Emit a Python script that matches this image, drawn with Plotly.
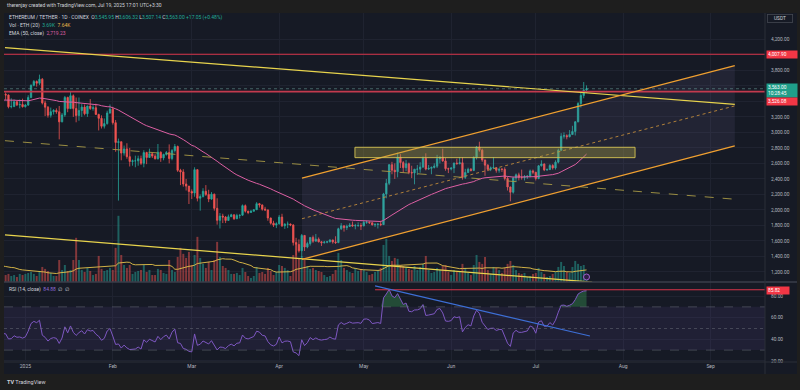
import numpy as np
import pandas as pd
import plotly.graph_objects as go

# ---------------- data (daily ETH/USDT, COINEX) ----------------
DATES = pd.date_range("2024-12-01", "2025-07-19", freq="D")
FIRST_OPEN = 3705.0

CLOSE = [
    # Dec 2024
    3707, 3642, 3614, 3837, 3785, 4002, 3997, 4005, 3709, 3627, 3836, 3879, 3908, 3876, 3960, 3985,
    3875, 3628, 3420, 3473, 3285, 3275, 3420, 3490, 3482, 3331, 3335, 3395, 3355, 3360, 3332,
    # Jan 2025
    3353, 3451, 3607, 3657, 3634, 3686, 3380, 3325, 3221, 3267, 3283, 3266, 3136, 3225, 3451, 3307,
    3473, 3307, 3217, 3282, 3326, 3241, 3339, 3307, 3318, 3232, 3181, 3079, 3113, 3250, 3300,
    # Feb
    3125, 2870, 2880, 2733, 2787, 2687, 2624, 2633, 2633, 2661, 2601, 2740, 2676, 2725, 2694, 2660,
    2744, 2671, 2716, 2740, 2663, 2765, 2818, 2510, 2490, 2334, 2307, 2237,
    # Mar
    2217, 2519, 2150, 2172, 2240, 2200, 2140, 2203, 2020, 1865, 1920, 1908, 1864, 1912, 1937, 1887,
    1927, 1932, 2055, 1983, 1967, 1982, 2002, 2080, 2064, 2010, 2000, 1896, 1829, 1804, 1822,
    # Apr
    1907, 1795, 1815, 1817, 1805, 1580, 1553, 1473, 1671, 1522, 1566, 1645, 1596, 1623, 1588, 1577,
    1584, 1588, 1613, 1587, 1579, 1757, 1795, 1771, 1787, 1806, 1793, 1799, 1799, 1793,
    # May
    1839, 1842, 1834, 1807, 1812, 1816, 1810, 2206, 2344, 2583, 2512, 2493, 2680, 2610, 2545, 2595,
    2484, 2477, 2524, 2526, 2553, 2666, 2527, 2536, 2548, 2564, 2660, 2681, 2632, 2532, 2528,
    # Jun
    2540, 2604, 2594, 2608, 2419, 2483, 2524, 2509, 2679, 2811, 2771, 2643, 2577, 2523, 2543, 2545,
    2510, 2524, 2523, 2406, 2296, 2228, 2410, 2452, 2418, 2417, 2425, 2436, 2503, 2486,
    # Jul
    2405, 2569, 2592, 2516, 2520, 2573, 2542, 2616, 2770, 2950, 2958, 2944, 2972, 3012, 3136, 3372,
    3476, 3545.95, 3563.00,
]
HIGH = [
    3760, 3730, 3670, 3875, 3935, 4085, 4020, 4010, 4010, 3790, 3845, 3990, 3950, 3950, 3970, 4105,
    4040, 3905, 3725, 3490, 3540, 3340, 3430, 3510, 3515, 3490, 3440, 3425, 3410, 3425, 3435,
    3365, 3480, 3620, 3675, 3670, 3745, 3700, 3410, 3340, 3320, 3300, 3310, 3340, 3250, 3470, 3460,
    3525, 3490, 3450, 3450, 3365, 3360, 3345, 3430, 3350, 3370, 3240, 3220, 3180, 3280, 3360,
    3330, 3160, 2920, 2880, 2830, 2860, 2800, 2650, 2700, 2700, 2700, 2770, 2750, 2790, 2730, 2720,
    2850, 2755, 2725, 2760, 2845, 2785, 2850, 2830, 2530, 2525, 2400, 2310,
    2265, 2550, 2525, 2200, 2280, 2320, 2260, 2230, 2210, 2150, 1960, 1950, 1920, 1940, 1950, 1940,
    1950, 1940, 2070, 2070, 1990, 2000, 2010, 2100, 2090, 2070, 2040, 2005, 1900, 1860, 1840,
    1935, 1950, 1830, 1850, 1825, 1815, 1640, 1620, 1690, 1675, 1590, 1650, 1670, 1690, 1645, 1600,
    1600, 1600, 1620, 1615, 1660, 1770, 1830, 1800, 1810, 1830, 1850, 1820, 1840, 1830,
    1860, 1860, 1850, 1840, 1830, 1830, 1860, 2220, 2400, 2590, 2620, 2600, 2738, 2720, 2630, 2645,
    2610, 2570, 2530, 2580, 2615, 2690, 2730, 2580, 2560, 2600, 2710, 2690, 2790, 2670, 2545,
    2550, 2610, 2660, 2680, 2680, 2530, 2545, 2540, 2690, 2825, 2880, 2790, 2650, 2590, 2560, 2680,
    2550, 2540, 2540, 2550, 2430, 2300, 2430, 2470, 2480, 2520, 2450, 2445, 2520, 2520,
    2490, 2580, 2640, 2600, 2535, 2590, 2590, 2640, 2790, 2990, 3000, 2975, 3030, 3085, 3145, 3390,
    3520, 3650, 3606.32,
]
LOW = [
    3640, 3560, 3500, 3600, 3745, 3760, 3960, 3945, 3530, 3515, 3610, 3830, 3850, 3860, 3850, 3920,
    3850, 3590, 3360, 3100, 3280, 3225, 3180, 3400, 3420, 3310, 3310, 3325, 3340, 3310, 3320,
    3320, 3340, 3440, 3595, 3590, 3610, 3360, 3210, 3190, 3190, 3230, 3240, 2910, 3130, 3200, 3260,
    3300, 3200, 3130, 3150, 3200, 3220, 3200, 3290, 3280, 3225, 3025, 3050, 3050, 3100, 3240,
    3100, 2750, 2120, 2640, 2700, 2660, 2560, 2570, 2550, 2570, 2580, 2550, 2590, 2670, 2670, 2650,
    2650, 2620, 2640, 2700, 2600, 2640, 2740, 2490, 2320, 2300, 2250, 2076,
    2140, 2170, 2110, 1990, 2160, 2180, 2100, 2130, 1990, 1810, 1760, 1830, 1830, 1860, 1910, 1870,
    1880, 1890, 1925, 1965, 1945, 1960, 1980, 2000, 2030, 1990, 1985, 1860, 1810, 1780, 1765,
    1810, 1780, 1755, 1765, 1790, 1540, 1410, 1450, 1385, 1470, 1505, 1540, 1575, 1595, 1580, 1535,
    1565, 1570, 1580, 1565, 1560, 1570, 1740, 1720, 1740, 1780, 1785, 1750, 1780, 1740,
    1790, 1820, 1820, 1800, 1780, 1760, 1790, 1805, 2150, 2320, 2460, 2400, 2420, 2540, 2480, 2500,
    2460, 2410, 2330, 2450, 2480, 2540, 2510, 2515, 2460, 2535, 2540, 2600, 2620, 2505, 2475,
    2510, 2475, 2590, 2590, 2390, 2400, 2475, 2495, 2500, 2650, 2750, 2620, 2440, 2500, 2500, 2530,
    2480, 2480, 2490, 2380, 2250, 2111, 2210, 2360, 2380, 2390, 2380, 2400, 2420, 2460,
    2380, 2395, 2560, 2500, 2505, 2515, 2520, 2520, 2600, 2760, 2920, 2910, 2935, 2970, 2960, 3130,
    3320, 3440, 3507.14,
]
VOLUME_K = [
    12.5, 11.0, 13.5, 14.0, 12.0, 16.5, 8.0, 7.5, 20.0, 15.0, 11.5, 10.0, 8.5, 6.5, 7.0, 12.0,
    11.0, 14.5, 19.0, 18.0, 10.5, 7.0, 8.5, 6.5, 5.0, 5.8, 4.3, 5.0, 3.6, 5.8, 5.0,
    5.8, 6.5, 7.2, 5.8, 4.3, 7.9, 10.8, 9.4, 7.9, 6.5, 4.3, 4.3, 15.8, 8.6, 12.2, 7.9,
    8.6, 15.8, 31.7, 15.8, 8.6, 7.2, 10.1, 7.9, 5.0, 5.8, 18.7, 9.4, 7.9, 8.6, 10.1,
    8.6, 24.5, 47.5, 19.4, 12.2, 10.1, 12.2, 5.8, 7.2, 7.9, 8.6, 12.2, 7.2, 8.6, 5.0, 5.0,
    9.4, 8.6, 6.5, 5.8, 15.8, 8.6, 7.2, 18.0, 24.5, 20.2, 17.3, 21.6,
    12.2, 19.4, 32.4, 17.3, 13.0, 10.1, 14.4, 8.6, 15.8, 28.8, 18.0, 11.5, 10.1, 8.6, 5.8, 5.8,
    6.5, 5.0, 10.1, 7.2, 4.3, 2.9, 4.3, 10.8, 6.5, 7.2, 5.8, 10.1, 7.9, 5.0, 7.2,
    12.2, 11.5, 10.1, 8.6, 4.3, 19.4, 26.6, 17.3, 18.7, 15.8, 11.5, 9.4, 10.1, 8.6, 7.9, 7.2,
    5.0, 3.6, 4.3, 5.8, 8.6, 20.9, 15.8, 10.1, 8.6, 7.2, 6.5, 10.1, 7.9, 9.4,
    8.6, 7.2, 5.0, 5.8, 7.2, 8.6, 10.1, 26.6, 31.0, 18.7, 15.1, 17.3, 16.6, 12.2, 11.5, 10.1,
    9.4, 8.6, 11.5, 8.6, 10.8, 13.0, 18.7, 8.6, 6.5, 7.2, 10.1, 8.6, 11.5, 12.2, 7.2,
    5.0, 8.6, 7.2, 7.9, 13.0, 10.1, 6.5, 5.0, 12.2, 19.4, 14.4, 13.0, 18.0, 8.6, 5.8, 10.8,
    10.1, 8.6, 6.5, 10.1, 13.0, 15.1, 12.2, 8.6, 6.5, 5.8, 6.5, 3.6, 4.3, 5.8,
    6.5, 10.1, 7.2, 5.8, 3.6, 4.3, 5.8, 7.2, 10.8, 14.4, 11.5, 7.2, 6.5, 10.8, 15.1, 13.0,
    11.5, 12.2, 3.69,
]
EMA_PRIOR = 3000.0   # EMA(50) on 2024-11-30 (chart reads ~3,424 at its left edge)

# Drawings (date, price / RSI value)
TOP_TREND_X, TOP_TREND_Y = ["2024-12-24 18:00", "2025-09-09 14:00"], [4094, 3361]
LOW_TREND_X, LOW_TREND_Y = ["2024-12-24 18:00", "2025-07-21 00:00"], [1678, 1068]
MID_DASH_X, MID_DASH_Y = ["2024-12-24 18:00", "2025-09-09 14:00"], [2893, 2138]
CHAN_X = ["2025-04-09 02:00", "2025-09-09 14:00"]
CHAN_UP, CHAN_MID, CHAN_LO = [2409, 3860], [1886, 3342], [1362, 2825]
ZONE_X, ZONE_Y = ["2025-04-27 21:00", "2025-08-05 05:00"], [2674, 2808]
RES_LEVEL, SUP_LEVEL, LAST_PRICE = 4007.90, 3526.08, 3563.00
RSI_LEVEL, RSI_LEVEL_START = 85.82, "2025-05-05"
RSI_TREND_X, RSI_TREND_Y = ["2025-05-05 00:00", "2025-07-20 05:00"], [89.4, 43.0]

PRICE_TICKS = list(range(1200, 4201, 200))
HIDDEN_TICKS = {3400, 3600, 4000}
RSI_TICKS = [20, 40, 60, 80]
MONTH_TICKS = ["2025-01-01", "2025-02-01", "2025-03-01", "2025-04-01", "2025-05-01",
               "2025-06-01", "2025-07-01", "2025-08-01", "2025-09-01"]
MONTH_TEXT = ["2025", "Feb", "Mar", "Apr", "May", "Jun", "Jul", "Aug", "Sep"]

# ---------------- indicators ----------------
c = np.array(CLOSE, dtype=float)
o = np.array([FIRST_OPEN] + CLOSE[:-1], dtype=float)
h = np.maximum.reduce([np.array(HIGH, float), o, c])
l = np.minimum.reduce([np.array(LOW, float), o, c])
vol = np.array(VOLUME_K, float)

alpha = 2 / 51
ema, prev = [], EMA_PRIOR
for v in c:
    prev = alpha * v + (1 - alpha) * prev
    ema.append(prev)

d = np.diff(c)
gain, loss = np.clip(d, 0, None), np.clip(-d, 0, None)
rsi = np.full(len(c), np.nan)
ag, al = gain[:14].mean(), loss[:14].mean()
rsi[14] = 100 * ag / (ag + al)
for i in range(14, len(d)):
    ag = (ag * 13 + gain[i]) / 14
    al = (al * 13 + loss[i]) / 14
    rsi[i + 1] = 100 * ag / (ag + al)
vol_ma = pd.Series(vol).rolling(20).mean().values

# ---------------- styling ----------------
UP, DOWN = "#26a69a", "#ef5350"
BG, PAPER = "#161a25", "#1e1e1e"
GRID = "#1f2330"
TXT = "#b2b5be"
FONT = "Roboto"
L_, R_, T_, B_ = 4, 765, 13, 362
SPLIT = 282


def px(x):
    return (x - L_) / (R_ - L_)


def py(y):
    return (B_ - y) / (B_ - T_)


fig = go.Figure()

# channel fill
fig.add_trace(go.Scatter(x=[CHAN_X[0], CHAN_X[1], CHAN_X[1], CHAN_X[0]],
                         y=[CHAN_UP[0], CHAN_UP[1], CHAN_LO[1], CHAN_LO[0]],
                         fill="toself", fillcolor="rgba(150,140,210,0.09)",
                         line=dict(width=0), mode="lines", yaxis="y", hoverinfo="skip"))

# volume
vcol = np.where(c >= o, "rgba(38,166,154,0.5)", "rgba(239,83,80,0.5)")
fig.add_trace(go.Bar(x=DATES, y=vol, marker=dict(color=list(vcol), line=dict(width=0)),
                     width=0.7 * 86400000, yaxis="y2"))
fig.add_trace(go.Scatter(x=DATES, y=vol_ma, mode="lines", line=dict(color="#e6c34a", width=0.9),
                         yaxis="y2"))
fig.add_trace(go.Scatter(x=[DATES[-1]], y=[3.6], mode="markers", yaxis="y2",
                         marker=dict(size=6, color="#2d1f45", line=dict(color="#a060d0", width=1))))

# candles
fig.add_trace(go.Candlestick(x=DATES, open=o, high=h, low=l, close=c, yaxis="y",
                             increasing=dict(line=dict(color=UP, width=0.8), fillcolor=UP),
                             decreasing=dict(line=dict(color=DOWN, width=0.8), fillcolor=DOWN),
                             whiskerwidth=0))
fig.add_trace(go.Scatter(x=DATES, y=ema, mode="lines", line=dict(color="#dd5fa3", width=1),
                         yaxis="y"))

# RSI
rs_x = DATES[14:]
rs_y = rsi[14:]
fig.add_trace(go.Scatter(x=rs_x, y=np.full(len(rs_y), 70.0), mode="lines",
                         line=dict(width=0), yaxis="y3", hoverinfo="skip"))
fig.add_trace(go.Scatter(x=rs_x, y=np.maximum(rs_y, 70.0), mode="lines", line=dict(width=0),
                         fill="tonexty", fillcolor="rgba(60,170,90,0.35)", yaxis="y3"))
fig.add_trace(go.Scatter(x=rs_x, y=rs_y, mode="lines", line=dict(color="#7e57c2", width=1),
                         yaxis="y3"))

shapes = []
# frame background
shapes.append(dict(type="rect", xref="paper", yref="paper", x0=0, x1=px(797), y0=py(374), y1=1,
                   fillcolor=BG, line=dict(width=0), layer="below"))
# RSI band and levels
shapes.append(dict(type="rect", xref="x", yref="y3", x0="2024-12-01", x1="2025-10-30",
                   y0=30, y1=70, fillcolor="rgba(126,87,194,0.10)", line=dict(width=0),
                   layer="between"))
for lv, dash in [(70, "dash"), (50, "dot"), (30, "dash")]:
    shapes.append(dict(type="line", xref="paper", yref="y3", x0=0, x1=1, y0=lv, y1=lv,
                       line=dict(color="rgba(120,123,134,0.55)", width=0.8, dash=dash)))
# horizontal levels
shapes.append(dict(type="line", xref="paper", yref="y", x0=0, x1=1, y0=RES_LEVEL, y1=RES_LEVEL,
                   line=dict(color="#d9344a", width=1.2)))
shapes.append(dict(type="line", xref="paper", yref="y", x0=0, x1=1, y0=LAST_PRICE, y1=LAST_PRICE,
                   line=dict(color="rgba(120,180,170,0.6)", width=0.8, dash="dot")))
shapes.append(dict(type="line", xref="paper", yref="y", x0=0, x1=1, y0=SUP_LEVEL, y1=SUP_LEVEL,
                   line=dict(color="#c23a4e", width=1.8)))
# trend lines
shapes.append(dict(type="line", xref="x", yref="y", x0=MID_DASH_X[0], x1=MID_DASH_X[1],
                   y0=MID_DASH_Y[0], y1=MID_DASH_Y[1], line=dict(color="#a89a45", width=0.9, dash="dash")))
shapes.append(dict(type="line", xref="x", yref="y", x0=TOP_TREND_X[0], x1=TOP_TREND_X[1],
                   y0=TOP_TREND_Y[0], y1=TOP_TREND_Y[1], line=dict(color="#e8d44d", width=1.2)))
shapes.append(dict(type="line", xref="x", yref="y", x0=LOW_TREND_X[0], x1=LOW_TREND_X[1],
                   y0=LOW_TREND_Y[0], y1=LOW_TREND_Y[1], line=dict(color="#e8d44d", width=1.2)))
shapes.append(dict(type="line", xref="x", yref="y", x0=CHAN_X[0], x1=CHAN_X[1],
                   y0=CHAN_UP[0], y1=CHAN_UP[1], line=dict(color="#f0a030", width=1.3)))
shapes.append(dict(type="line", xref="x", yref="y", x0=CHAN_X[0], x1=CHAN_X[1],
                   y0=CHAN_LO[0], y1=CHAN_LO[1], line=dict(color="#f0a030", width=1.3)))
shapes.append(dict(type="line", xref="x", yref="y", x0=CHAN_X[0], x1=CHAN_X[1],
                   y0=CHAN_MID[0], y1=CHAN_MID[1], line=dict(color="#c08a3a", width=0.9, dash="dot")))
shapes.append(dict(type="rect", xref="x", yref="y", x0=ZONE_X[0], x1=ZONE_X[1],
                   y0=ZONE_Y[0], y1=ZONE_Y[1], fillcolor="rgba(175,165,70,0.35)",
                   line=dict(color="#d8c653", width=0.9)))
# RSI drawings
shapes.append(dict(type="line", xref="x", yref="y3", x0=RSI_LEVEL_START, x1="2025-10-30",
                   y0=RSI_LEVEL, y1=RSI_LEVEL, line=dict(color="#d9344a", width=1.2)))
shapes.append(dict(type="line", xref="x", yref="y3", x0=RSI_TREND_X[0], x1=RSI_TREND_X[1],
                   y0=RSI_TREND_Y[0], y1=RSI_TREND_Y[1], line=dict(color="#3d6fd6", width=1.1)))
# separators
shapes.append(dict(type="line", xref="paper", yref="paper", x0=0, x1=px(797), y0=py(SPLIT), y1=py(SPLIT),
                   line=dict(color="#3a3e4a", width=1.5)))
shapes.append(dict(type="line", xref="paper", yref="paper", x0=0, x1=px(797), y0=0, y1=0,
                   line=dict(color="#2a2e39", width=1)))
shapes.append(dict(type="line", xref="paper", yref="paper", x0=1, x1=1, y0=py(374), y1=1,
                   line=dict(color="#2a2e39", width=1)))

ann = []


def note(x, y, text, size=5, color="#d1d4dc", **kw):
    ann.append(dict(x=px(x), y=py(y), xref="paper", yref="paper", text=text, showarrow=False,
                    xanchor=kw.pop("xanchor", "left"), yanchor=kw.pop("yanchor", "middle"),
                    font=dict(family=FONT, size=size, color=color), **kw))


TEAL = "#22ab94"
note(5, 5.5, "therenjay created with TradingView.com, Jul 19, 2025 17:01 UTC+3:30", size=5)
note(7, 17.5, "ETHEREUM / TETHER · 1D · COINEX  "
     f"O<span style='color:{TEAL}'>3,545.95</span> H<span style='color:{TEAL}'>3,606.32</span> "
     f"L<span style='color:{TEAL}'>3,507.14</span> C<span style='color:{TEAL}'>3,563.00</span> "
     f"<span style='color:{TEAL}'>+17.05 (+0.48%)</span>", size=5)
note(7, 25.3, f"Vol · ETH (20)  <span style='color:{TEAL}'>3.69K</span>  "
     "<span style='color:#e6b84a'>7.64K</span>", size=5)
note(7, 33, "EMA (50, close)  <span style='color:#dd5fa3'>2,719.23</span>", size=5)
note(7, 289.5, "RSI (14, close)  <span style='color:#8f6bd6'>84.88</span>  ∅  ∅", size=5)
note(5, 381.5, "<b>TV</b> TradingView", size=5.5)

# price-scale labels
note(767, 19, "USDT", size=4.8, bgcolor=BG, bordercolor="#434651", borderwidth=0.8,
     borderpad=1.2, width=22, align="center")
note(766, 54.2, "4,007.90", size=4.8, color="white", bgcolor="#f23645", borderpad=1,
     width=28, align="left")
note(766, 90.8, "3,563.00<br>10:28:45", size=4.8, color="white", bgcolor="#1f9e8a",
     borderpad=1, width=28, align="left")
note(766, 101.7, "3,526.08", size=4.8, color="white", bgcolor="#f23645", borderpad=1,
     width=28, align="left")
note(766, 290.7, "85.82", size=4.8, color="white", bgcolor="#f23645", borderpad=1,
     width=20, align="left")

dom_split = py(SPLIT)
fig.update_layout(
    width=800, height=390, margin=dict(l=L_, r=800 - R_, t=T_, b=390 - B_, autoexpand=False),
    paper_bgcolor=PAPER, plot_bgcolor="rgba(0,0,0,0)", showlegend=False, hovermode=False,
    shapes=shapes, annotations=ann,
    xaxis=dict(type="date", range=["2024-12-24 10:00", "2025-09-20 07:00"], anchor="y3",
               tickvals=MONTH_TICKS, ticktext=MONTH_TEXT, showgrid=True, gridcolor=GRID,
               gridwidth=1, zeroline=False, showline=False, ticks="",
               tickfont=dict(family=FONT, size=5, color=TXT), rangeslider=dict(visible=False)),
    yaxis=dict(domain=[dom_split, 1], range=[1070, 4540], side="right", anchor="x",
               tickvals=PRICE_TICKS,
               ticktext=["" if v in HIDDEN_TICKS else f"{v:,.2f}" for v in PRICE_TICKS],
               showgrid=True, gridcolor=GRID, zeroline=False, ticks="", ticklabelstandoff=5,
               tickfont=dict(family=FONT, size=4.8, color=TXT)),
    yaxis2=dict(overlaying="y", range=[0, 193], visible=False, showgrid=False),
    yaxis3=dict(domain=[0, dom_split], range=[19, 93], side="right", anchor="x",
                tickvals=RSI_TICKS, ticktext=[f"{v:.2f}" for v in RSI_TICKS],
                showgrid=True, gridcolor=GRID, zeroline=False, ticks="", ticklabelstandoff=5,
                tickfont=dict(family=FONT, size=4.8, color=TXT)),
)

RESET_JS = ("document.body.style.margin='0px';document.body.style.padding='0px';"
            "document.body.style.background='#1e1e1e';document.body.style.overflow='hidden';")
fig.write_html("out.html", include_plotlyjs=True, post_script=RESET_JS,
               config={"displayModeBar": False, "staticPlot": True})
